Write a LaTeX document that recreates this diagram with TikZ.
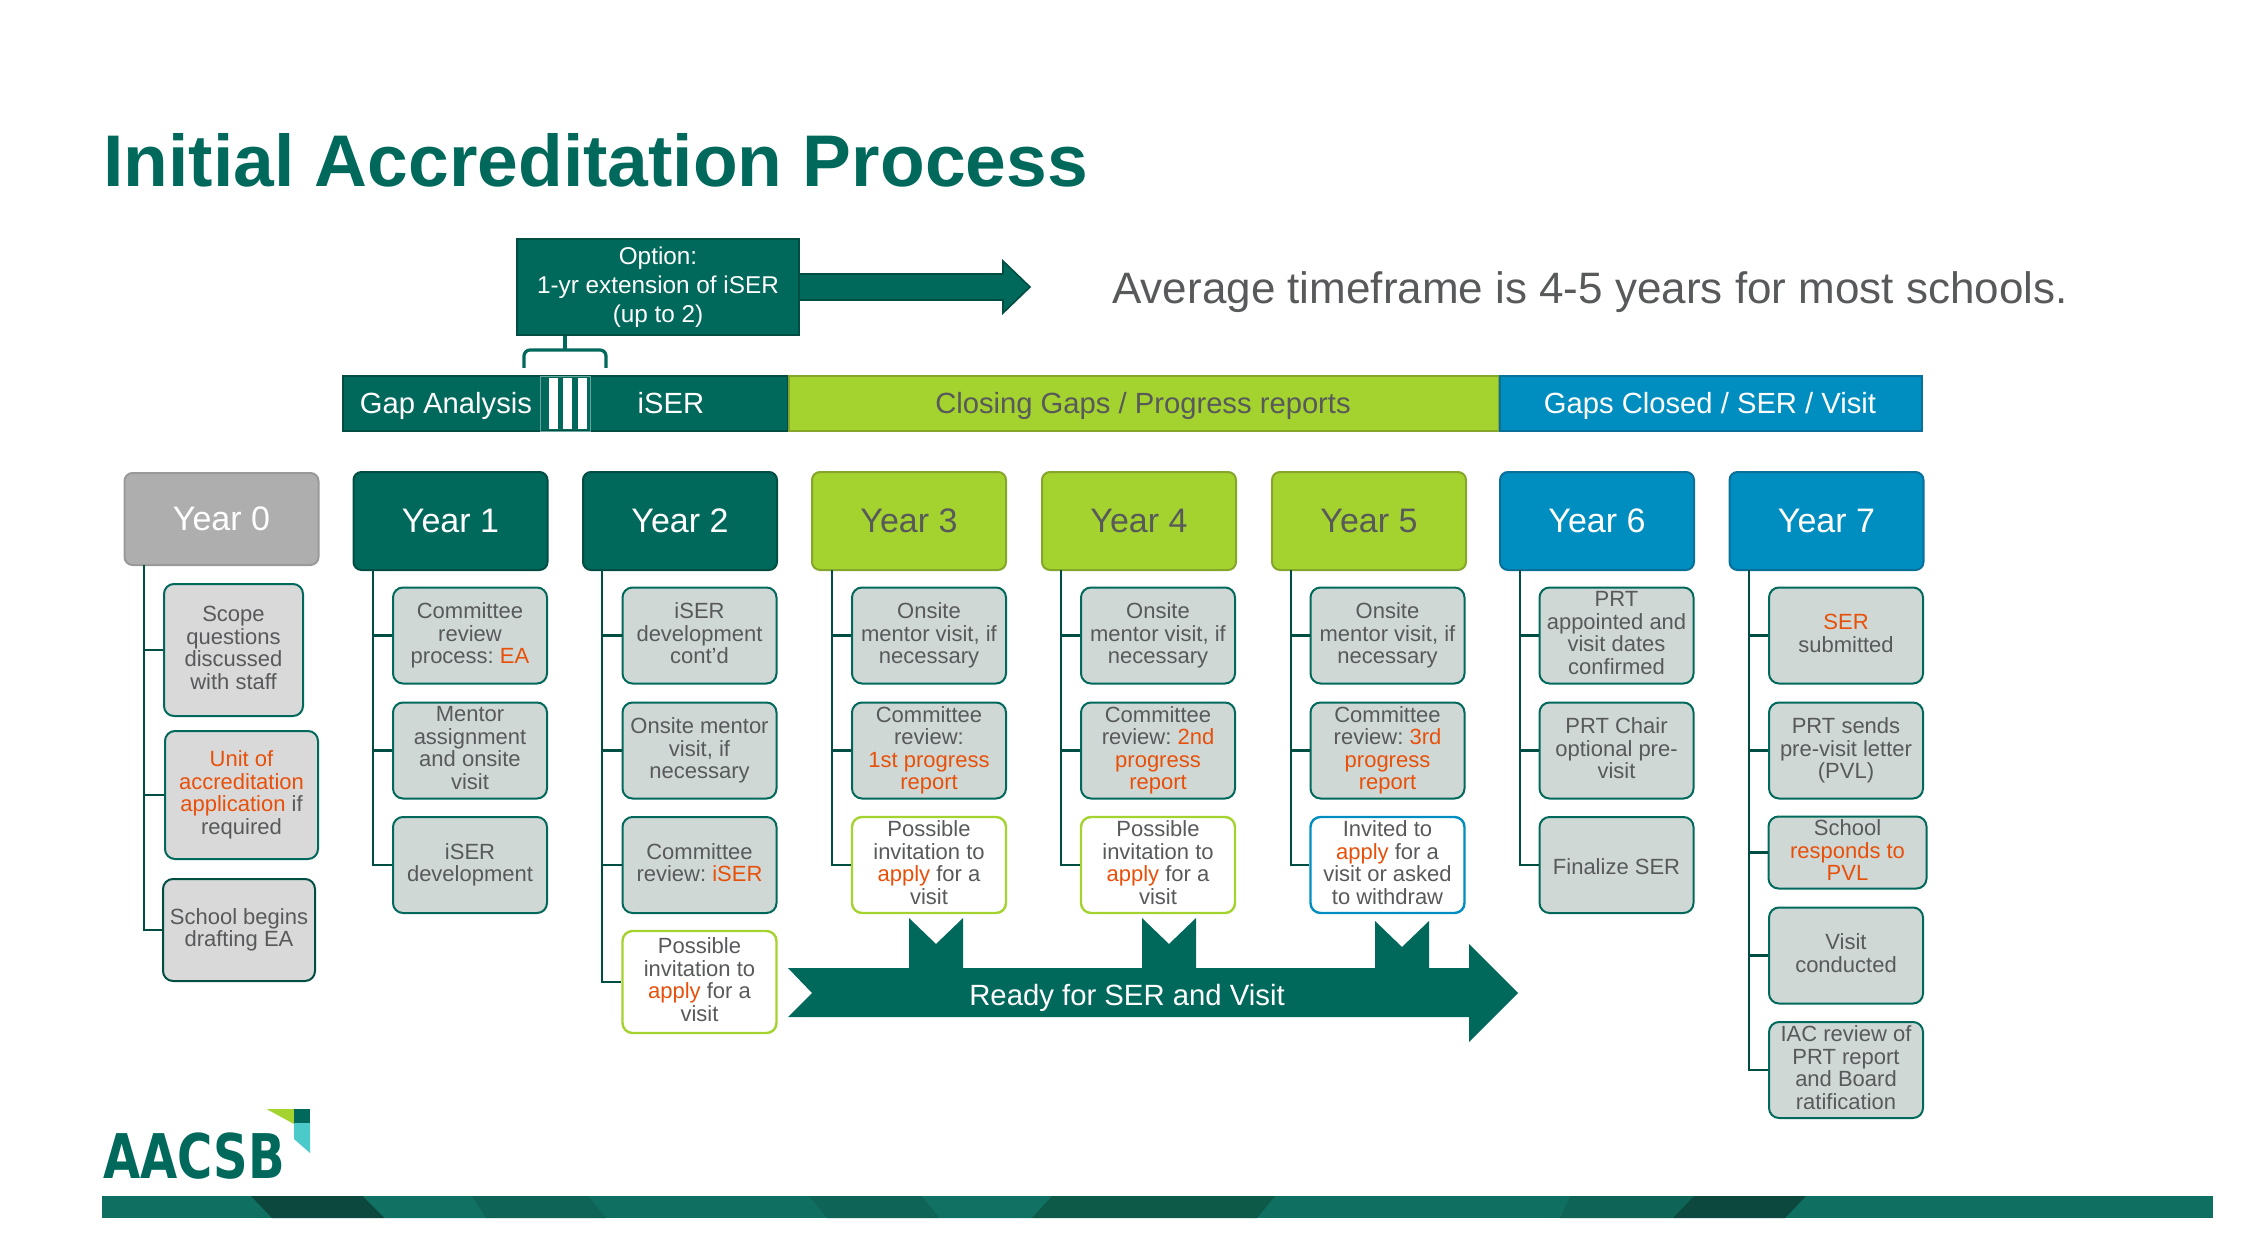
\documentclass[tikz,border=0pt]{standalone}
\usepackage{fontspec}
\setmainfont{Liberation Sans}
\newfontfamily\logofont{DejaVu Sans}
\usetikzlibrary{positioning,arrows.meta,shapes,calc}
\definecolor{acteal}{HTML}{00695C}
\definecolor{acdark}{HTML}{004D43}
\definecolor{aclime}{HTML}{A4D32F}
\definecolor{acolive}{HTML}{85A62A}
\definecolor{acblue}{HTML}{008DBF}
\definecolor{acnavy}{HTML}{0A7099}
\definecolor{acgrey}{HTML}{AFAEAF}
\definecolor{acpale}{HTML}{CFD8D5}
\definecolor{acsoft}{HTML}{D9D9D9}
\definecolor{actext}{HTML}{58595B}
\definecolor{achot}{HTML}{E8500A}
\definecolor{bandbase}{HTML}{0F7062}
\definecolor{bandnight}{HTML}{0C483D}
\definecolor{bandmid}{HTML}{0F6458}
\definecolor{bandpine}{HTML}{0D5A49}
\definecolor{bandsoft}{HTML}{117264}
\newcommand{\hot}[1]{\textcolor{achot}{#1}}

\begin{document}
\begin{tikzpicture}[
  x=0.5pt, y=-0.5pt,
  font=\fontsize{11}{11.25}\selectfont\frenchspacing,
  year/.style={rectangle, rounded corners=4pt, line width=1pt, minimum width=97pt, minimum height=49pt,
               inner sep=0pt, text=white, font=\fontsize{17}{18}\selectfont},
  yrteal/.style={year, fill=acteal, draw=acdark},
  yrlime/.style={year, fill=aclime, draw=acolive, text=actext},
  yrblue/.style={year, fill=acblue, draw=acnavy},
  yrgrey/.style={year, fill=acgrey, draw=black!40, minimum height=46pt},
  sub/.style={rectangle, rounded corners=5pt, draw=acteal, line width=1pt, fill=acpale, text=actext,
              minimum width=77pt, minimum height=48pt, inner sep=0pt, align=center,
              execute at begin node={\rule{0pt}{12.2pt}}, execute at end node={\rule[-2.4pt]{0pt}{2.4pt}}},
  subsoft/.style={sub, fill=acsoft},
  sublime/.style={sub, fill=white, draw=aclime, line width=1.2pt},
  subblue/.style={sub, fill=white, draw=acblue, line width=1.2pt},
  bar/.style={rectangle, minimum height=27pt, inner sep=0pt, line width=1pt},
  barlabel/.style={inner sep=0pt, text height=10.5pt, text depth=3pt, font=\fontsize{14.6}{16}\selectfont},
  tick/.style={rectangle, fill=white, minimum width=4.4pt, minimum height=25.5pt, inner sep=0pt},
  link/.style={draw=acdark, line width=1.1pt},
  brace/.style={draw=acteal, line width=1.6pt}
]
\useasboundingbox (0,0) rectangle (2253,1251);

% title
\node[anchor=west, inner sep=0pt, text=acteal, font=\fontsize{36.6}{40}\selectfont\bfseries] (title) at (103,160) {Initial Accreditation Process};
\node[anchor=west, inner sep=0pt, text=actext, font=\fontsize{22}{24}\selectfont] (avg) at (1112,292.5) {Average timeframe is 4-5 years for most schools.};

% option box and arrow
\fill[acteal, draw=acdark, line width=0.8pt] (790,274) -- (1003,274) -- (1003,261) -- (1030,287) -- (1003,313) -- (1003,300) -- (790,300) -- cycle;
\node[rectangle, fill=acteal, draw=acdark, line width=1pt, minimum width=141pt, minimum height=48pt, inner sep=0pt,
      align=center, text=white, font=\fontsize{12.15}{14.5}\selectfont,
      execute at begin node={\rule{0pt}{17.45pt}}, execute at end node={\rule[-2.7pt]{0pt}{2.7pt}}] (opt) at (658,287.5) {Option:\\1-yr extension of iSER\\(up to 2)};

% timeline bar
\node[bar, fill=acteal, draw=acdark, minimum width=222.5pt] (bargap) at (565,403.5) {};
\node[bar, fill=aclime, draw=acolive, minimum width=355pt] (barclose) at (1143.5,403.5) {};
\node[bar, fill=acblue, draw=acnavy, minimum width=211pt] (bardone) at (1711,403.5) {};
\node[barlabel, text=white] (lblgap) at (446,406.5) {Gap Analysis};
\node[barlabel, text=white] (lbliser) at (671,406.5) {iSER};
\node[barlabel, text=actext] (lblclose) at (1143,406.5) {Closing Gaps / Progress reports};
\node[barlabel, text=white] (lbldone) at (1710,406.5) {Gaps Closed / SER / Visit};
\node[rectangle, draw=acteal!60!white, line width=0.4pt, minimum width=25pt, minimum height=27.5pt, inner sep=0pt] (stripes) at (565,403.5) {};
\node[tick] (tickA) at (553.5,403.5) {};
\node[tick] (tickB) at (567.5,403.5) {};
\node[tick] (tickC) at (582.5,403.5) {};

% bracket
\coordinate (brk) at (565,350);
\draw[brace, rounded corners=3pt] (524,368) |- (brk) -| (606,368);
\draw[brace] (opt.south -| brk) -- (brk);

% headers
\node[yrgrey] (y0) at (221.5,519) {Year 0};
\node[yrteal] (y1) at (450.5,521) {Year 1};
\node[yrteal] (y2) at (680,521) {Year 2};
\node[yrlime] (y3) at (909,521) {Year 3};
\node[yrlime] (y4) at (1139,521) {Year 4};
\node[yrlime] (y5) at (1369,521) {Year 5};
\node[yrblue] (y6) at (1597,521) {Year 6};
\node[yrblue] (y7) at (1826.5,521) {Year 7};

% year 0
\node[subsoft, minimum width=69.5pt, minimum height=66pt] (a0) at (233.5,650) {Scope\\questions\\discussed\\with staff};
\node[sub, fill=acsoft, minimum width=76.5pt, minimum height=64pt] (a1) at (241.5,795) {\hot{Unit of}\\\hot{accreditation}\\\hot{application} if\\required};
\node[subsoft, draw=acdark, minimum width=76pt, minimum height=51pt] (a2) at (239,930) {School begins\\drafting EA};
% year 1
\node[sub] (b0) at (470,635.5) {Committee\\review\\process: \hot{EA}};
\node[sub] (b1) at (470,750.5) {Mentor\\assignment\\and onsite\\visit};
\node[sub] (b2) at (470,865) {iSER\\development};
% year 2
\node[sub] (c0) at (699.5,635.5) {iSER\\development\\cont'd};
\node[sub] (c1) at (699.5,750.5) {Onsite mentor\\visit, if\\necessary};
\node[sub] (c2) at (699.5,865) {Committee\\review: \hot{iSER}};
\node[sublime, minimum height=51pt] (c3) at (699.5,982) {Possible\\invitation to\\\hot{apply} for a\\visit};
% year 3
\node[sub] (d0) at (929,635.5) {Onsite\\mentor visit, if\\necessary};
\node[sub] (d1) at (929,750.5) {Committee\\review:\\\hot{1st progress}\\\hot{report}};
\node[sublime] (d2) at (929,865) {Possible\\invitation to\\\hot{apply} for a\\visit};
% year 4
\node[sub] (e0) at (1158,635.5) {Onsite\\mentor visit, if\\necessary};
\node[sub] (e1) at (1158,750.5) {Committee\\review: \hot{2nd}\\\hot{progress}\\\hot{report}};
\node[sublime] (e2) at (1158,865) {Possible\\invitation to\\\hot{apply} for a\\visit};
% year 5
\node[sub] (f0) at (1387.5,635.5) {Onsite\\mentor visit, if\\necessary};
\node[sub] (f1) at (1387.5,750.5) {Committee\\review: \hot{3rd}\\\hot{progress}\\\hot{report}};
\node[subblue] (f2) at (1387.5,865) {Invited to\\\hot{apply} for a\\visit or asked\\to withdraw};
% year 6
\node[sub] (g0) at (1616.5,635.5) {PRT\\appointed and\\visit dates\\confirmed};
\node[sub] (g1) at (1616.5,750.5) {PRT Chair\\optional pre-\\visit};
\node[sub] (g2) at (1616.5,865) {Finalize SER};
% year 7
\node[sub] (h0) at (1846,635.5) {\hot{SER}\\submitted};
\node[sub] (h1) at (1846,750.5) {PRT sends\\pre-visit letter\\(PVL)};
\node[sub, minimum width=79pt, minimum height=36pt,
      execute at begin node={\rule{0pt}{10.7pt}}, execute at end node={\rule[-1pt]{0pt}{1pt}}] (h2) at (1847.5,852.5) {School\\\hot{responds to}\\\hot{PVL}};
\node[sub] (h3) at (1846,955.5) {Visit\\conducted};
\node[sub] (h4) at (1846,1070) {IAC review of\\PRT report\\and Board\\ratification};

% tree lines
\coordinate (s0) at (144,565);
\coordinate (s1) at (373,570);
\coordinate (s2) at (602,570);
\coordinate (s3) at (832,570);
\coordinate (s4) at (1061,570);
\coordinate (s5) at (1291,570);
\coordinate (s6) at (1520,570);
\coordinate (s7) at (1749,570);
\draw[link] (s0) |- (a0.west);
\draw[link] (s0) |- (a1.west);
\draw[link] (s0) |- (a2.west);
\draw[link] (s1) |- (b0.west);
\draw[link] (s1) |- (b1.west);
\draw[link] (s1) |- (b2.west);
\draw[link] (s2) |- (c0.west);
\draw[link] (s2) |- (c1.west);
\draw[link] (s2) |- (c2.west);
\draw[link] (s2) |- (c3.west);
\draw[link] (s3) |- (d0.west);
\draw[link] (s3) |- (d1.west);
\draw[link] (s3) |- (d2.west);
\draw[link] (s4) |- (e0.west);
\draw[link] (s4) |- (e1.west);
\draw[link] (s4) |- (e2.west);
\draw[link] (s5) |- (f0.west);
\draw[link] (s5) |- (f1.west);
\draw[link] (s5) |- (f2.west);
\draw[link] (s6) |- (g0.west);
\draw[link] (s6) |- (g1.west);
\draw[link] (s6) |- (g2.west);
\draw[link] (s7) |- (h0.west);
\draw[link] (s7) |- (h1.west);
\draw[link] (s7) |- (h2.west);
\draw[link] (s7) |- (h3.west);
\draw[link] (s7) |- (h4.west);

% ready arrow with its notched stems
\fill[acteal] (788,968) -- (909,968) -- (909,918) -- (936,944) -- (963,918) -- (963,968)
  -- (1142,968) -- (1142,918) -- (1169,944) -- (1196,918) -- (1196,968)
  -- (1375,968) -- (1375,921) -- (1402,947) -- (1429,921) -- (1429,968)
  -- (1469,968) -- (1469,944) -- (1518,993) -- (1469,1042) -- (1469,1017) -- (788,1017) -- (812,993) -- cycle;
\node[inner sep=0pt, text=white, font=\fontsize{14.65}{16}\selectfont] (ready) at (1127,998) {Ready for SER and Visit};

% logo
\node[inner sep=0pt, text=acteal, xscale=0.78, font=\fontsize{30.8}{31}\logofont\bfseries] (logo) at (194,1156) {AACSB};
\fill[aclime] (266.5,1109) -- (294,1109) -- (294,1124) -- cycle;
\fill[acteal] (294,1109) rectangle (310,1123);
\fill[teal!60!cyan!70!white] (294,1123) -- (310,1123) -- (310,1153) -- (294,1139) -- cycle;

% footer band
\fill[bandbase] (102,1196) rectangle (2213,1218);
\fill[bandnight] (251,1196) -- (363,1196) -- (385,1218) -- (272,1218) -- cycle;
\fill[bandsoft] (363,1196) -- (472,1196) -- (486,1218) -- (385,1218) -- cycle;
\fill[bandmid] (472,1196) -- (588,1196) -- (606,1218) -- (486,1218) -- cycle;
\fill[bandmid] (809,1196) -- (922,1196) -- (940,1218) -- (827,1218) -- cycle;
\fill[bandsoft] (922,1196) -- (1052,1196) -- (1032,1218) -- (940,1218) -- cycle;
\fill[bandpine] (1052,1196) -- (1275,1196) -- (1257,1218) -- (1032,1218) -- cycle;
\fill[bandmid] (1570,1196) -- (1694,1196) -- (1673,1218) -- (1560,1218) -- cycle;
\fill[bandnight] (1694,1196) -- (1806,1196) -- (1785,1218) -- (1673,1218) -- cycle;
\end{tikzpicture}
\end{document}
